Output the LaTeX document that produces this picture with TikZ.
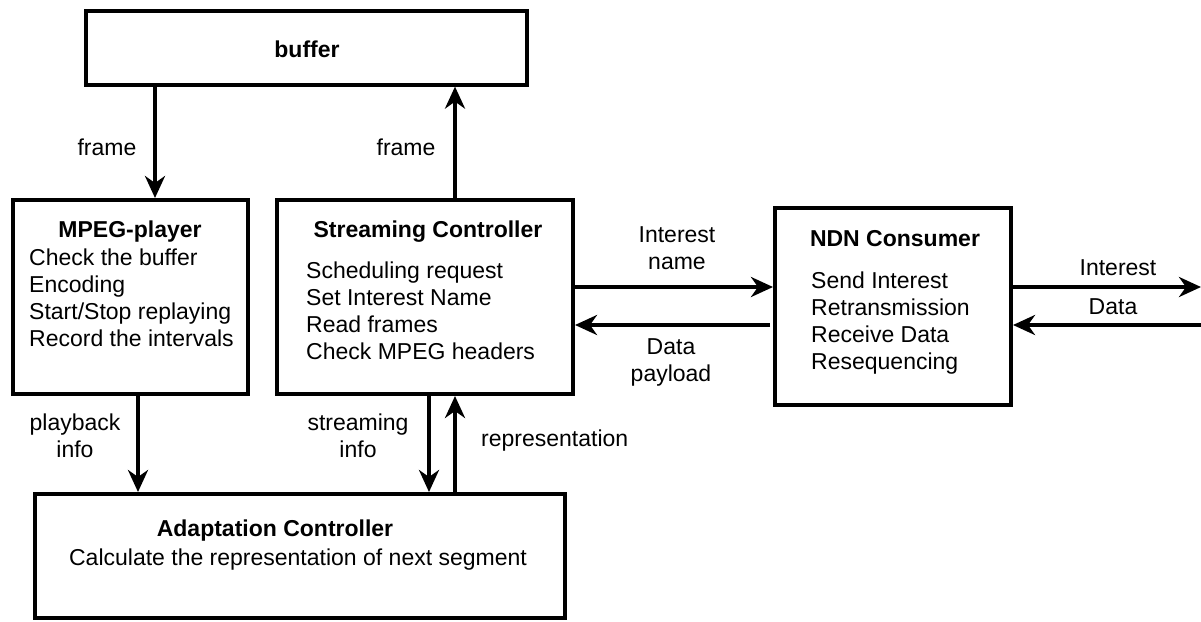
\documentclass[tikz,border=0pt]{standalone}
\usepackage{fontspec}
\setmainfont{Liberation Sans}
\usetikzlibrary{arrows.meta}
\begin{document}
\begin{tikzpicture}[x=1pt,y=-1pt,
  txt/.style={font=\fontsize{23}{27}\selectfont, inner sep=0pt},
  ttl/.style={font=\fontsize{23}{27}\selectfont\bfseries, inner sep=0pt, anchor=base},
  body/.style={txt, align=left, anchor=north west},
  lbl/.style={txt, align=center, anchor=north},
  box/.style={draw, line width=4pt, inner sep=0pt},
  arr/.style={line width=4pt, -{Stealth[length=22pt,width=20pt,inset=7pt]}}
]
\useasboundingbox (0,0) rectangle (1201,621);

% blocks
\node[box, minimum width=441pt, minimum height=74pt] (buf) at (306.5,47.6) {};
\node[box, minimum width=235pt, minimum height=194pt] (mp) at (130.5,297) {};
\node[box, minimum width=296pt, minimum height=194pt] (sc) at (425,297) {};
\node[box, minimum width=236pt, minimum height=197pt] (ndn) at (893,306.5) {};
\node[box, minimum width=530pt, minimum height=124pt] (ac) at (300,556) {};

% block texts
\node[ttl] (tbuf) at (307,57) {buffer};
\node[ttl] (tmp) at (130,237) {MPEG-player};
\node[body] (bmp) at (29,246.3) {\strut Check the buffer\\Encoding\\Start/Stop replaying\\Record the intervals};
\node[ttl] (tsc) at (428,237) {Streaming Controller};
\node[body] (bsc) at (306,259.3) {\strut Scheduling request\\Set Interest Name\\Read frames\\Check MPEG headers};
\node[ttl] (tndn) at (895,246) {NDN Consumer};
\node[body] (bndn) at (811,269.3) {\strut Send Interest\\Retransmission\\Receive Data\\Resequencing};
\node[ttl] (tac) at (275,536) {Adaptation Controller};
\node[txt, anchor=base] (bac) at (298,565) {Calculate the representation of next segment};

% x positions of the vertical links
\coordinate (x1) at (155,0);
\coordinate (x2) at (455,0);
\coordinate (x3) at (138,0);
\coordinate (x4) at (429,0);
% y positions of the horizontal links and the outer ends
\coordinate (y1) at (0,287);
\coordinate (y2) at (0,325);
\coordinate (eI) at (1201,287);
\coordinate (eD) at (1201,325);

% links
\draw[arr] (x1 |- buf.south) -- (x1 |- mp.north);
\draw[arr] (x2 |- sc.north) -- (x2 |- buf.south);
\draw[arr] (x3 |- mp.south) -- (x3 |- ac.north);
\draw[arr] (x4 |- sc.south) -- (x4 |- ac.north);
\draw[arr] (x2 |- ac.north) -- (x2 |- sc.south);
\draw[arr] (sc.east |- y1) -- (ndn.west |- y1);
\draw[arr] ([xshift=-3pt]ndn.west |- y2) -- (sc.east |- y2);
\draw[arr] (ndn.east |- eI) -- (eI);
\draw[arr] (eD) -- (ndn.east |- eD);

% link labels
\node[txt, anchor=base] (lf1) at (107,155) {frame};
\node[txt, anchor=base] (lf2) at (406,155) {frame};
\node[lbl] (lin) at (677,223.3) {\strut Interest\\name};
\node[lbl] (ldp) at (671,335.3) {\strut Data\\payload};
\node[txt, anchor=base] (lio) at (1118,275) {Interest};
\node[txt, anchor=base] (ldo) at (1113,314) {Data};
\node[lbl] (lpb) at (75,411.3) {\strut playback\\info};
\node[lbl] (lsi) at (358,411.3) {\strut streaming\\info};
\node[txt, anchor=base west] (lrep) at (481,446) {representation};
\end{tikzpicture}
\end{document}
